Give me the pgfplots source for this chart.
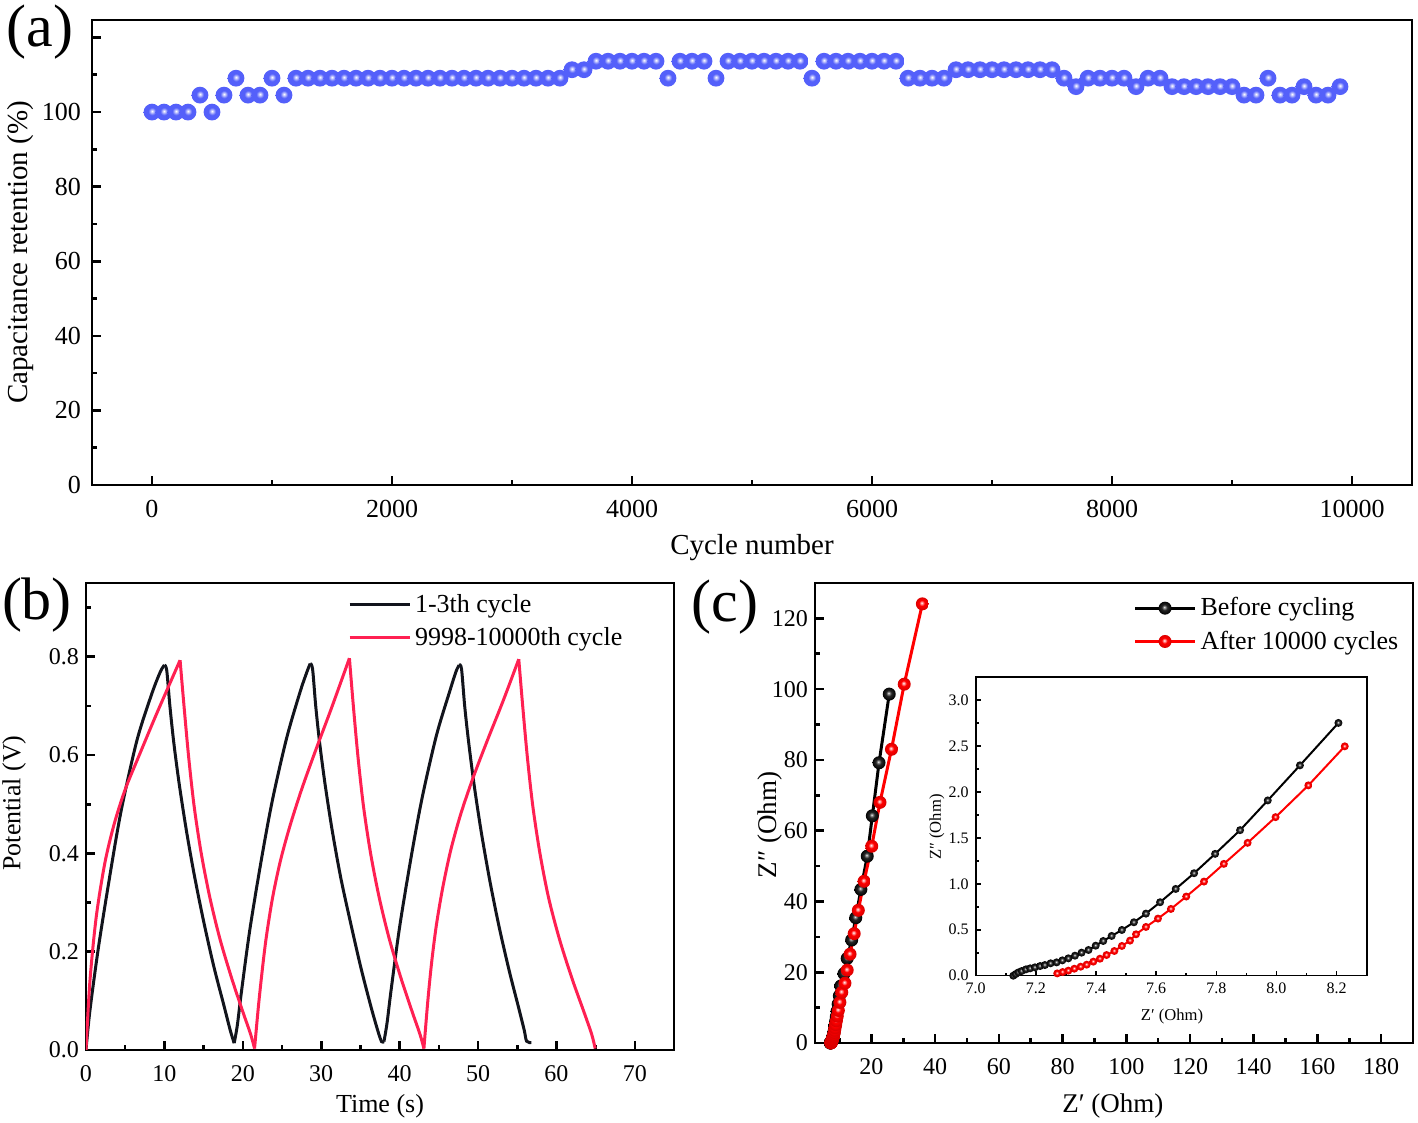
\documentclass[border=0pt]{standalone}
\usepackage{fontspec}
\setmainfont{Liberation Serif}
\usepackage{pgfplots}
\pgfplotsset{compat=1.18}
\usepackage{pgfplotstable}

\definecolor{ballblue}{RGB}{84,96,250}
\definecolor{gcdblack}{RGB}{18,20,28}
\definecolor{gcdred}{RGB}{255,32,82}

% glossy markers
\pgfdeclareradialshading{blueball}{\pgfpoint{0bp}{3bp}}{color(0bp)=(white); color(4bp)=(ballblue!35!white); color(11bp)=(ballblue); color(25bp)=(ballblue); color(50bp)=(ballblue)}
\pgfdeclareradialshading{blackball}{\pgfpoint{-3bp}{4bp}}{color(0bp)=(white); color(4bp)=(black!45); color(11bp)=(black!85); color(25bp)=(black); color(50bp)=(black)}
\pgfdeclareradialshading{redball}{\pgfpoint{-3bp}{4bp}}{color(0bp)=(white); color(4bp)=(red!40!white); color(11bp)=(red); color(25bp)=(red!85!black); color(50bp)=(red!85!black)}
\pgfdeclareplotmark{blueball}{\pgfpathcircle{\pgfpointorigin}{\pgfplotmarksize}\pgfshadepath{blueball}{0}\pgfusepath{}}
\pgfdeclareplotmark{blackball}{\pgfpathcircle{\pgfpointorigin}{\pgfplotmarksize}\pgfshadepath{blackball}{0}\pgfusepath{}}
\pgfdeclareplotmark{redball}{\pgfpathcircle{\pgfpointorigin}{\pgfplotmarksize}\pgfshadepath{redball}{0}\pgfusepath{}}

\pgfplotstableread{
x y
0 100
100 100
200 100
300 100
400 104.55
500 100
600 104.55
700 109.09
800 104.55
900 104.55
1000 109.09
1100 104.55
1200 109.09
1300 109.09
1400 109.09
1500 109.09
1600 109.09
1700 109.09
1800 109.09
1900 109.09
2000 109.09
2100 109.09
2200 109.09
2300 109.09
2400 109.09
2500 109.09
2600 109.09
2700 109.09
2800 109.09
2900 109.09
3000 109.09
3100 109.09
3200 109.09
3300 109.09
3400 109.09
3500 111.36
3600 111.36
3700 113.64
3800 113.64
3900 113.64
4000 113.64
4100 113.64
4200 113.64
4300 109.09
4400 113.64
4500 113.64
4600 113.64
4700 109.09
4800 113.64
4900 113.64
5000 113.64
5100 113.64
5200 113.64
5300 113.64
5400 113.64
5500 109.09
5600 113.64
5700 113.64
5800 113.64
5900 113.64
6000 113.64
6100 113.64
6200 113.64
6300 109.09
6400 109.09
6500 109.09
6600 109.09
6700 111.36
6800 111.36
6900 111.36
7000 111.36
7100 111.36
7200 111.36
7300 111.36
7400 111.36
7500 111.36
7600 109.09
7700 106.82
7800 109.09
7900 109.09
8000 109.09
8100 109.09
8200 106.82
8300 109.09
8400 109.09
8500 106.82
8600 106.82
8700 106.82
8800 106.82
8900 106.82
9000 106.82
9100 104.55
9200 104.55
9300 109.09
9400 104.55
9500 104.55
9600 106.82
9700 104.55
9800 104.55
9900 106.82
}\capdata

\pgfplotstableread{
x y
7.125 0.0
7.133 0.018
7.142 0.036
7.153 0.051
7.167 0.069
7.181 0.080
7.197 0.091
7.214 0.105
7.230 0.116
7.249 0.135
7.269 0.145
7.288 0.167
7.308 0.189
7.330 0.218
7.352 0.251
7.375 0.280
7.399 0.327
7.424 0.378
7.452 0.433
7.486 0.498
7.526 0.582
7.566 0.676
7.613 0.800
7.665 0.945
7.726 1.116
7.796 1.327
7.879 1.585
7.971 1.909
8.078 2.291
8.206 2.753
8.31 3.36
8.43 4.1
8.58 5.0
8.76 6.1
8.97 7.4
9.23 9.0
9.56 11.0
9.94 13.3
10.4 16.1
11.4 19.6
12.4 23.9
13.8 29.1
15.1 35.4
16.7 43.4
18.7 52.8
20.3 64.2
22.4 79.2
25.6 98.6
}\eisblack

\pgfplotstableread{
x y
7.271 0.025
7.289 0.040
7.308 0.055
7.328 0.076
7.349 0.098
7.369 0.120
7.391 0.153
7.413 0.185
7.435 0.225
7.461 0.269
7.486 0.324
7.513 0.382
7.533 0.451
7.566 0.531
7.606 0.622
7.649 0.727
7.700 0.862
7.759 1.025
7.825 1.218
7.904 1.447
7.997 1.727
8.106 2.073
8.227 2.498
8.33 3.0
8.46 3.6
8.61 4.35
8.79 5.2
9.02 6.3
9.29 7.6
9.63 9.2
10.11 11.5
10.7 14.3
11.7 16.9
12.4 20.6
13.3 25.1
14.6 30.9
15.9 37.5
17.7 45.7
20.1 55.6
22.7 68.0
26.3 83.0
30.3 101.4
36.0 124.1
}\eisred

\begin{document}
\begin{tikzpicture}
\useasboundingbox (0pt,0pt) rectangle (709pt,561.5pt);
\pgfplotsset{
  every axis/.append style={
    scale only axis, anchor=south west,
    tick align=inside, xtick pos=left, ytick pos=left,
    axis line style={line width=1.3pt},
    tick style={line width=1.3pt, black},
    major tick length=4.5pt, minor tick length=2.5pt,
    /pgf/number format/assume math mode=true,
    /pgf/number format/1000 sep={},
    scaled ticks=false,
  },
}

% (a) cycling stability
\begin{axis}[
  at={(46pt,319pt)}, width=660pt, height=232.5pt,
  xmin=-500, xmax=10500, ymin=0, ymax=124.7,
  xtick={0,2000,...,10000}, minor xtick={1000,3000,5000,7000,9000},
  ytick={0,20,...,120}, yticklabels={0,20,40,60,80,100,},
  minor ytick={10,30,50,70,90,110},
  tick label style={font=\fontsize{13}{15}\selectfont},
  xticklabel style={yshift=-4pt},
  yticklabel style={xshift=-2pt},
  label style={font=\fontsize{14.5}{17}\selectfont},
  xlabel={Cycle number},
  ylabel={Capacitance retention (\%)},
  xlabel style={at={(axis description cs:0.5,-0.1355)}, anchor=center},
  ylabel style={at={(axis description cs:-0.0545,0.5)}, anchor=center},
]
\addplot[only marks, mark=blueball, mark size=4.2pt] table {\capdata};
\end{axis}

% (b) GCD curves
\begin{axis}[
  at={(43pt,36.5pt)}, width=294pt, height=233.5pt,
  xmin=0, xmax=75, ymin=0, ymax=0.95,
  xtick={0,10,...,70}, minor xtick={5,15,...,75},
  ytick={0,0.2,0.4,0.6,0.8}, minor ytick={0.1,0.3,0.5,0.7,0.9},
  yticklabel style={/pgf/number format/fixed, /pgf/number format/fixed zerofill, /pgf/number format/precision=1},
  tick label style={font=\fontsize{12}{14}\selectfont},
  xticklabel style={yshift=-4pt},
  label style={font=\fontsize{13}{15}\selectfont},
  xlabel={Time (s)}, ylabel={Potential (V)},
  xlabel style={at={(axis description cs:0.5,-0.12)}, anchor=center},
  ylabel style={at={(axis description cs:-0.1224,0.529)}, anchor=center},
  legend style={draw=none, fill=none, at={(0.445,0.985)}, anchor=north west,
    font=\fontsize{13}{15}\selectfont, row sep=2pt, inner sep=0pt},
  legend cell align=left,
  legend image code/.code={\draw[#1] (0pt,0pt) -- (30pt,0pt);},
  smooth, tension=0.5,
]
% 1-3th cycle
\addplot[gcdblack, line width=1.5pt] coordinates {
(0,0) (0.5,0.08) (1.6,0.21) (3.1,0.36) (4.5,0.488) (6.5,0.63) (8.4,0.725) (9.5,0.77) (10.0,0.783)};
\addlegendentry{1-3th cycle}
\addplot[gcdblack, line width=1.5pt, forget plot] coordinates {
(10.0,0.783) (10.3,0.772) (10.7,0.70) (11.2,0.625) (11.9,0.54) (12.8,0.447) (13.8,0.357) (15.0,0.262) (16.3,0.17) (17.6,0.09) (18.4,0.04) (18.9,0.014)};
\addplot[gcdblack, line width=1.5pt, forget plot] coordinates {
(18.9,0.014) (19.3,0.05) (19.8,0.115) (20.9,0.245) (22.4,0.39) (23.8,0.51) (25.6,0.635) (27.3,0.728) (28.2,0.77) (28.6,0.786)};
\addplot[gcdblack, line width=1.5pt, forget plot] coordinates {
(28.6,0.786) (28.9,0.775) (29.3,0.70) (29.8,0.625) (30.5,0.54) (31.4,0.447) (32.5,0.35) (33.8,0.255) (35.1,0.165) (36.4,0.085) (37.3,0.035) (37.7,0.017) (38.0,0.017)};
\addplot[gcdblack, line width=1.5pt, forget plot] coordinates {
(38.0,0.017) (38.4,0.055) (38.9,0.12) (40.0,0.25) (41.5,0.395) (42.9,0.515) (44.7,0.64) (46.4,0.73) (47.2,0.77) (47.6,0.783)};
\addplot[gcdblack, line width=1.5pt, forget plot] coordinates {
(47.6,0.783) (47.9,0.775) (48.3,0.70) (48.8,0.627) (49.5,0.54) (50.4,0.445) (51.5,0.345) (52.7,0.25) (54.0,0.16) (55.2,0.085) (55.9,0.04) (56.2,0.018) (56.8,0.015)};
% 9998-10000th cycle
\addplot[gcdred, line width=1.5pt] coordinates {
(0,0) (0.5,0.14) (1.3,0.27) (2.4,0.38) (3.6,0.46) (5.0,0.53) (6.8,0.6) (8.9,0.68) (10.9,0.753) (12.0,0.793)};
\addlegendentry{9998-10000th cycle}
\addplot[gcdred, line width=1.5pt, forget plot] coordinates {
(12.0,0.793) (12.5,0.70) (13.1,0.595) (13.8,0.495) (14.7,0.40) (15.8,0.31) (17.1,0.225) (18.6,0.145) (20.0,0.078) (21.0,0.032) (21.5,0.003)};
\addplot[gcdred, line width=1.5pt, forget plot] coordinates {
(21.5,0.003) (22.0,0.09) (22.5,0.165) (23.0,0.23) (23.8,0.31) (24.8,0.385) (26.0,0.455) (27.5,0.53) (29.3,0.61) (31.3,0.695) (33.6,0.797)};
\addplot[gcdred, line width=1.5pt, forget plot] coordinates {
(33.6,0.797) (34.1,0.70) (34.7,0.595) (35.4,0.495) (36.3,0.40) (37.4,0.31) (38.7,0.225) (40.2,0.145) (41.6,0.078) (42.6,0.032) (43.1,0.003)};
\addplot[gcdred, line width=1.5pt, forget plot] coordinates {
(43.1,0.003) (43.6,0.1) (44.1,0.18) (44.7,0.255) (45.5,0.33) (46.5,0.405) (47.8,0.48) (49.4,0.555) (51.2,0.63) (53.2,0.71) (55.2,0.795)};
\addplot[gcdred, line width=1.5pt, forget plot] coordinates {
(55.2,0.795) (55.7,0.70) (56.3,0.595) (57.0,0.495) (57.9,0.40) (59.0,0.31) (60.4,0.225) (62.0,0.145) (63.5,0.078) (64.5,0.032) (64.95,0.003)};
\end{axis}

% (c) Nyquist plots
\begin{axis}[
  at={(407.5pt,40pt)}, width=299pt, height=230pt,
  xmin=2.3, xmax=190, ymin=0, ymax=130,
  xtick={20,40,...,180}, minor xtick={10,30,...,170},
  ytick={0,20,...,120}, minor ytick={10,30,...,110},
  tick label style={font=\fontsize{12}{14}\selectfont},
  xticklabel style={yshift=-4pt},
  label style={font=\fontsize{13.5}{16}\selectfont},
  xlabel={Z′ (Ohm)}, ylabel={Z″ (Ohm)},
  xlabel style={at={(axis description cs:0.498,-0.137)}, anchor=center},
  ylabel style={at={(axis description cs:-0.075,0.474)}, anchor=center},
  legend style={draw=none, fill=none, at={(0.532,0.978)}, anchor=north west,
    font=\fontsize{13}{15}\selectfont, row sep=2pt, inner sep=0pt},
  legend cell align=left,
  legend image code/.code={\draw[mark repeat=2,mark phase=2,#1] plot coordinates {(0pt,0pt) (15pt,0pt) (30pt,0pt)};},
]
\addplot[black, line width=1.5pt, mark=blackball, mark size=3.25pt] table {\eisblack};
\addlegendentry{Before cycling}
\addplot[red, line width=1.5pt, mark=redball, mark size=3.25pt] table {\eisred};
\addlegendentry{After 10000 cycles}
\end{axis}

% (c) inset
\begin{axis}[
  at={(487.85pt,73.65pt)}, width=195.5pt, height=149.2pt,
  xmin=7.0, xmax=8.3, ymin=0, ymax=3.25,
  axis background/.style={fill=white},
  axis line style={line width=0.8pt},
  tick style={line width=0.8pt, black},
  major tick length=2.5pt, minor tick length=1.5pt,
  xtick={7,7.2,7.4,7.6,7.8,8,8.2}, minor xtick={7.1,7.3,7.5,7.7,7.9,8.1},
  ytick={0,0.5,1,1.5,2,2.5,3}, minor ytick={0.25,0.75,1.25,1.75,2.25,2.75},
  tick label style={font=\fontsize{8}{10}\selectfont, /pgf/number format/fixed, /pgf/number format/fixed zerofill, /pgf/number format/precision=1},
  label style={font=\fontsize{8.3}{10}\selectfont},
  xlabel={Z′ (Ohm)}, ylabel={Z″ (Ohm)},
  xlabel style={at={(axis description cs:0.502,-0.138)}, anchor=center},
  ylabel style={at={(axis description cs:-0.099,0.498)}, anchor=center},
]
\addplot[black, line width=1pt, mark=blackball, mark size=2pt, restrict x to domain=7:8.28] table {\eisblack};
\addplot[red, line width=1pt, mark=redball, mark size=2pt, restrict x to domain=7:8.28] table {\eisred};
\end{axis}

\node[font=\fontsize{30}{34}\selectfont] at (20pt,545.5pt) {(a)};
\node[font=\fontsize{30}{34}\selectfont] at (18.5pt,259pt) {(b)};
\node[font=\fontsize{30}{34}\selectfont] at (362.5pt,258pt) {(c)};
\end{tikzpicture}
\end{document}
